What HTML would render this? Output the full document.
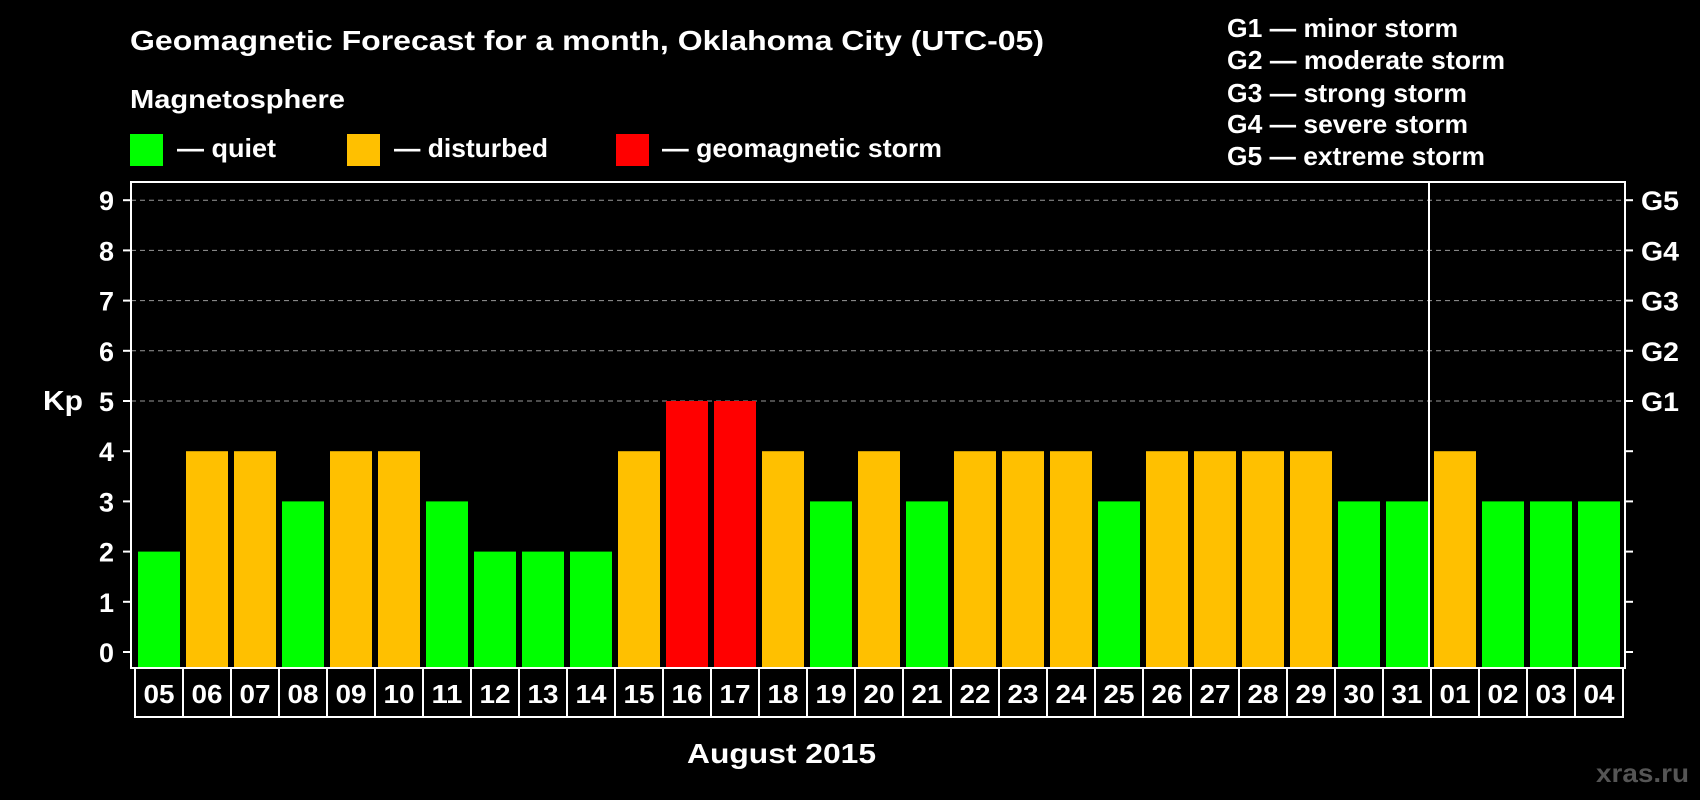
<!DOCTYPE html>
<html><head><meta charset="utf-8"><style>
body{margin:0;background:#000;width:1700px;height:800px;overflow:hidden}
svg{display:block;font-family:"Liberation Sans",Arial,sans-serif;font-weight:bold}
</style></head><body>
<svg id="c" width="1700" height="800">
<text x="130" y="50" fill="#fff" font-size="28" textLength="914" lengthAdjust="spacingAndGlyphs">Geomagnetic Forecast for a month, Oklahoma City (UTC-05)</text>
<text x="130" y="108" fill="#fff" font-size="26" textLength="215" lengthAdjust="spacingAndGlyphs">Magnetosphere</text>
<rect x="130" y="134" width="33" height="32" fill="#00ff00"/>
<text x="177" y="157" fill="#fff" font-size="26" textLength="99" lengthAdjust="spacingAndGlyphs">— quiet</text>
<rect x="347" y="134" width="33" height="32" fill="#ffc000"/>
<text x="394" y="157" fill="#fff" font-size="26" textLength="154" lengthAdjust="spacingAndGlyphs">— disturbed</text>
<rect x="616" y="134" width="33" height="32" fill="#ff0000"/>
<text x="662" y="157" fill="#fff" font-size="26" textLength="280" lengthAdjust="spacingAndGlyphs">— geomagnetic storm</text>
<g fill="#fff" font-size="26">
<text x="1227" y="37" textLength="231" lengthAdjust="spacingAndGlyphs">G1 — minor storm</text>
<text x="1227" y="69" textLength="278" lengthAdjust="spacingAndGlyphs">G2 — moderate storm</text>
<text x="1227" y="102" textLength="240" lengthAdjust="spacingAndGlyphs">G3 — strong storm</text>
<text x="1227" y="133" textLength="241" lengthAdjust="spacingAndGlyphs">G4 — severe storm</text>
<text x="1227" y="165" textLength="258" lengthAdjust="spacingAndGlyphs">G5 — extreme storm</text>
</g>
<text x="43" y="410" fill="#fff" font-size="28" textLength="40" lengthAdjust="spacingAndGlyphs">Kp</text>
<text x="687" y="763" fill="#fff" font-size="28" textLength="189" lengthAdjust="spacingAndGlyphs">August 2015</text>
<text x="1596" y="782" fill="#555" font-size="26" textLength="93" lengthAdjust="spacingAndGlyphs">xras.ru</text>
<g id="plot"></g>
</svg>
<script>
const days=["05","06","07","08","09","10","11","12","13","14","15","16","17","18","19","20","21","22","23","24","25","26","27","28","29","30","31","01","02","03","04"];
const kp=[2,4,4,3,4,4,3,2,2,2,4,5,5,4,3,4,3,4,4,4,3,4,4,4,4,3,3,4,3,3,3];
const yTicks=[0,1,2,3,4,5,6,7,8,9];
const gLabels=["","","","","","G1","G2","G3","G4","G5"];
const monthBreak=27;
const NS="http://www.w3.org/2000/svg",g=document.getElementById("plot");
const L=131,R=1625,T=182,B=668,y0=652,unit=50.2,x0=135,pitch=48;
const Y=v=>y0-v*unit, X=i=>x0+i*pitch;
function mk(t,a){const e=document.createElementNS(NS,t);for(const k in a)e.setAttribute(k,a[k]);g.appendChild(e);return e;}
yTicks.forEach((v,i)=>{
 if(v>=5){const l=mk("line",{x1:L,x2:R,y1:Y(v),y2:Y(v),stroke:"#999","stroke-dasharray":"5,4","stroke-width":1});
 
 }
 const a=mk("line",{x1:L-8,x2:L,y1:Y(v),y2:Y(v),stroke:"#fff","stroke-width":2});
 
 
 const b=mk("line",{x1:R,x2:R+8,y1:Y(v),y2:Y(v),stroke:"#fff","stroke-width":2});
 
 
 const t=mk("text",{x:99,y:Y(v)+10,fill:"#fff","font-size":27,textLength:15,lengthAdjust:"spacingAndGlyphs"});t.textContent=v;
 
 
 if(gLabels[i]){const s=mk("text",{x:1641,y:Y(v)+10,fill:"#fff","font-size":27,textLength:38,lengthAdjust:"spacingAndGlyphs"});s.textContent=gLabels[i];
 
 }
});
kp.forEach((v,i)=>{
 const col=v>=5?"#ff0000":v>=4?"#ffc000":"#00ff00";
 const r=mk("rect",{x:X(i)+3,y:Y(v),width:42,height:B-Y(v),fill:col});
 
 
 const bx=mk("rect",{x:X(i),y:B,width:pitch,height:49,fill:"none",stroke:"#fff","stroke-width":2});
 
 
 const t=mk("text",{x:X(i)+8.5,y:B+35,fill:"#fff","font-size":26,textLength:31,lengthAdjust:"spacingAndGlyphs"});t.textContent=days[i];
 
 
});
const fr=mk("rect",{x:L,y:T,width:R-L,height:B-T,fill:"none",stroke:"#fff","stroke-width":2});


const sep=mk("line",{x1:X(monthBreak)-2,x2:X(monthBreak)-2,y1:T,y2:B,stroke:"#fff","stroke-width":2});


</script>
</body></html>
